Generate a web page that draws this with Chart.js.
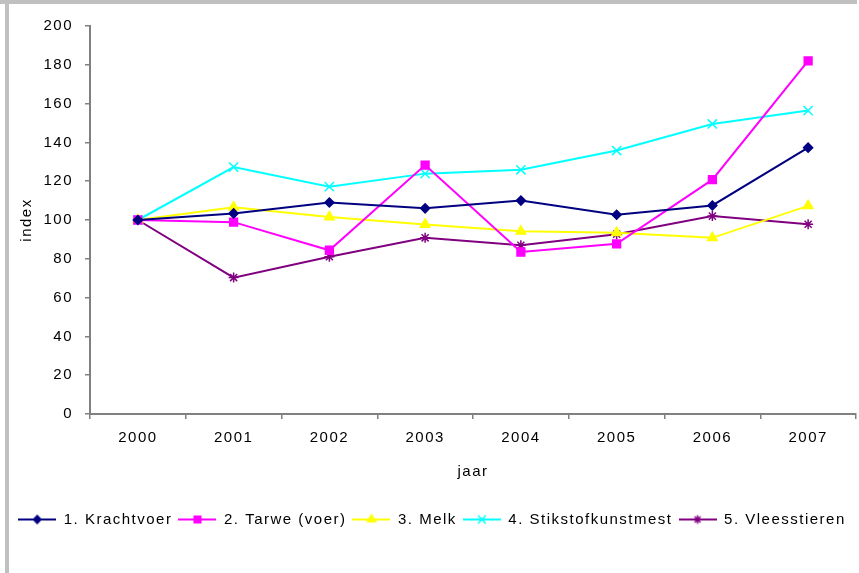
<!DOCTYPE html>
<html>
<head>
<meta charset="utf-8">
<script src="https://cdn.jsdelivr.net/npm/chart.js@4/dist/chart.umd.min.js"></script>
<style>
  html, body { margin: 0; padding: 0; background: #fff; }
  #wrap { position: relative; width: 859px; height: 573px; overflow: hidden; }
  #frameTop { position: absolute; left: 0; top: 0; width: 857px; height: 4px; background: #c0c0c0; }
  #frameLeft { position: absolute; left: 5px; top: 4px; width: 4px; height: 569px; background: #c0c0c0; }
  canvas { position: absolute; left: 0; top: 0; }
</style>
</head>
<body>
<div id="wrap">
  <canvas id="myChart" width="864" height="573"></canvas>
  <div id="frameTop"></div>
  <div id="frameLeft"></div>
</div>
<script>
const years = ["2000", "2001", "2002", "2003", "2004", "2005", "2006", "2007"];
const krachtvoer = [100, 103.4, 109, 106, 110, 102.7, 107.5, 137.3];
const tarwe = [100, 98.9, 84.4, 128.3, 83.5, 87.7, 120.8, 182];
const melk = [100, 106.6, 101.6, 97.7, 94.2, 93.4, 90.8, 107.3];
const stikstof = [100, 127.3, 117.2, 123.9, 125.9, 135.8, 149.5, 156.4];
const vleesstieren = [100, 70.3, 81.1, 90.8, 87, 92.7, 102, 97.8];
const seriesNames = ["1. Krachtvoer", "2. Tarwe (voer)", "3. Melk", "4. Stikstofkunstmest", "5. Vleesstieren"];
const seriesColors = ["#000080", "#FF00FF", "#FFFF00", "#00FFFF", "#800080"];
const seriesMarkers = ["rectRot", "rect", "triangle", "crossRot", "star"];
const markerSizes = [4.5, 5.5, 5.5, 6.5, 5];

const font = { family: "'Liberation Sans', Arial, sans-serif", size: 15 };
const spacing = "1.5px";

// small line + marker picture for each legend entry
function legendIcon(i) {
  const c = document.createElement("canvas");
  c.width = 38;
  c.height = 14;
  const ctx = c.getContext("2d");
  ctx.strokeStyle = seriesColors[i];
  ctx.fillStyle = seriesColors[i];
  ctx.lineWidth = 2;
  ctx.beginPath();
  ctx.moveTo(0, 7);
  ctx.lineTo(38, 7);
  ctx.stroke();
  ctx.lineWidth = 1.5;
  const filled = seriesMarkers[i] !== "crossRot" && seriesMarkers[i] !== "star";
  Chart.helpers.drawPoint(ctx, {
    pointStyle: seriesMarkers[i],
    radius: markerSizes[i] * 0.85,
    rotation: 0,
    borderWidth: filled ? 1 : 1.5
  }, 19, 7);
  return c;
}

const allValues = [krachtvoer, tarwe, melk, stikstof, vleesstieren];

const spacingPlugin = {
  id: "spacing",
  beforeUpdate(chart) { chart.ctx.letterSpacing = spacing; },
  beforeLayout(chart) { chart.ctx.letterSpacing = spacing; },
  beforeDraw(chart) { chart.ctx.letterSpacing = spacing; }
};

new Chart(document.getElementById("myChart"), {
  type: "line",
  plugins: [spacingPlugin],
  data: {
    labels: years,
    datasets: allValues.map((vals, i) => ({
      label: seriesNames[i],
      data: vals,
      borderColor: seriesColors[i],
      backgroundColor: seriesColors[i],
      borderWidth: 2,
      pointStyle: seriesMarkers[i],
      pointRadius: markerSizes[i],
      pointBorderWidth: 1.5,
      tension: 0
    }))
  },
  options: {
    responsive: false,
    animation: false,
    layout: { padding: { top: 26, right: 0, left: 0, bottom: 36 } },
    plugins: {
      tooltip: { enabled: false },
      legend: {
        position: "bottom",
        align: "center",
        labels: {
          color: "#000",
          font: font,
          usePointStyle: true,
          pointStyleWidth: 38,
          padding: 6,
          generateLabels(chart) {
            return chart.data.datasets.map((ds, i) => ({
              text: ds.label,
              pointStyle: legendIcon(i),
              fontColor: "#000",
              hidden: false,
              datasetIndex: i,
              lineWidth: 0
            }));
          }
        }
      }
    },
    scales: {
      x: {
        type: "category",
        offset: true,
        grid: { offset: true, drawOnChartArea: false, drawTicks: true, tickLength: 5, color: "#808080", lineWidth: 1.5 },
        border: { color: "#808080", width: 2 },
        ticks: { color: "#000", font: font, padding: 10, maxRotation: 0 },
        title: { display: true, text: "jaar", color: "#000", font: font, padding: { top: 0, bottom: 25 } },
        afterFit(scale) { scale.height = 92; }
      },
      y: {
        min: 0,
        max: 200,
        grid: { drawOnChartArea: false, drawTicks: true, tickLength: 5, color: "#808080", lineWidth: 1.5 },
        border: { color: "#808080", width: 2 },
        ticks: { stepSize: 20, color: "#000", font: font, padding: 12 },
        title: { display: true, text: "index", color: "#000", font: font, padding: { top: 18, bottom: 0 } },
        afterFit(scale) { scale.width = 90; }
      }
    }
  }
});
</script>
</body>
</html>
